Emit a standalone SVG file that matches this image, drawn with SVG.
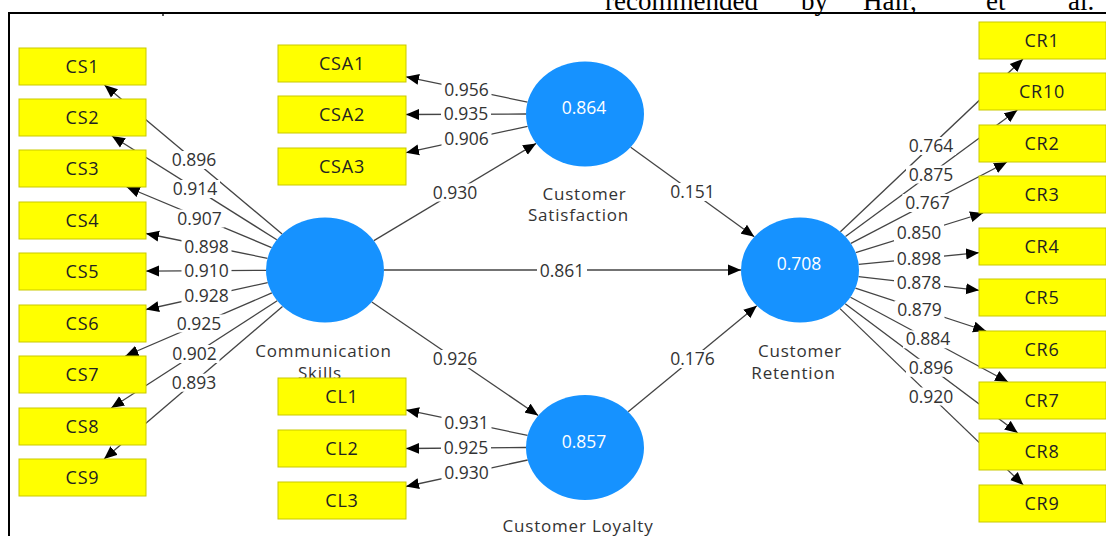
<svg xmlns="http://www.w3.org/2000/svg" width="1106" height="536" viewBox="0 0 1106 536">
  <style>
    .page { font-family: "Liberation Serif", "Times New Roman", serif; font-size: 27px; fill: #000; }
    .frame { stroke: #000; stroke-width: 2; fill: none; }
    .ind rect { fill: #ffff00; stroke: #c9c900; stroke-width: 1; }
    .ind text { font-family: "Open Sans", "DejaVu Sans", sans-serif; font-size: 18px; letter-spacing: 0.8px; fill: #222; text-anchor: middle; }
    .lv ellipse { fill: #1692ff; }
    .lv .val { font-family: "Open Sans", "DejaVu Sans", sans-serif; font-size: 17.5px; fill: #ffffff; text-anchor: middle; }
    .lv .name { font-family: "Open Sans", "DejaVu Sans", sans-serif; font-size: 17px; letter-spacing: 0.8px; fill: #333; text-anchor: middle; }
    .edge line { stroke: #444; stroke-width: 1.3; marker-end: url(#ah); }
    .coef rect { fill: #ffffff; }
    .coef text { font-family: "Open Sans", "DejaVu Sans", sans-serif; font-size: 17.5px; fill: #333; text-anchor: middle; }
  </style>
  <defs>
    <marker id="ah" markerUnits="userSpaceOnUse" markerWidth="14" markerHeight="12" refX="13" refY="6" orient="auto">
      <path d="M0,0.5 L13,6 L0,11.5 z" fill="#000"/>
    </marker>
  </defs>

  <rect width="1106" height="536" fill="#ffffff"/>

  <!-- running text of the page above the figure frame -->
  <g class="page">
    <text x="605" y="10">recommended</text>
    <text x="801" y="10">by</text>
    <text x="863" y="10">Hair,</text>
    <text x="986" y="10">et</text>
    <text x="1068" y="10">al.</text>
  </g>
  <path class="frame" d="M9,536 V13 H1106"/>
  <rect x="162" y="14" width="2" height="2" fill="#555"/>

  <!-- connectors: outer loadings and path coefficients -->
  <g id="connectors">
    <g class="edge">
      <line x1="282.1" y1="234.0" x2="104.5" y2="85"/>
      <line x1="276.8" y1="239.7" x2="111.9" y2="136"/>
      <line x1="271.6" y1="247.6" x2="126.7" y2="187"/>
      <line x1="267.5" y1="258.3" x2="146" y2="233.5"/>
      <line x1="266" y1="270.4" x2="146" y2="271.1"/>
      <line x1="267.7" y1="282.6" x2="146" y2="309.5"/>
      <line x1="271.9" y1="292.9" x2="125.4" y2="356"/>
      <line x1="277.2" y1="300.8" x2="111.2" y2="408"/>
      <line x1="282.5" y1="306.4" x2="104.1" y2="459"/>

      <line x1="527.5" y1="102.1" x2="406" y2="76.8"/>
      <line x1="526" y1="114" x2="406" y2="114.5"/>
      <line x1="527.6" y1="126.4" x2="406" y2="152.7"/>

      <line x1="527.6" y1="435.4" x2="406" y2="409.9"/>
      <line x1="526" y1="447.5" x2="406" y2="448.5"/>
      <line x1="527.7" y1="460" x2="406" y2="486.5"/>

      <line x1="840.4" y1="231.8" x2="1023" y2="59"/>
      <line x1="845.5" y1="236.5" x2="1017.4" y2="110"/>
      <line x1="850.9" y1="243.4" x2="1007" y2="162"/>
      <line x1="855.7" y1="252.7" x2="983.1" y2="213"/>
      <line x1="858.6" y1="264.3" x2="979" y2="252.7"/>
      <line x1="858.5" y1="276.6" x2="979" y2="290.3"/>
      <line x1="855.4" y1="288.1" x2="986.1" y2="331"/>
      <line x1="850.5" y1="297.2" x2="1008.1" y2="382"/>
      <line x1="845.2" y1="303.8" x2="1017.8" y2="433"/>
      <line x1="840" y1="308.6" x2="1023.3" y2="485"/>

      <line x1="373.9" y1="240.6" x2="536.1" y2="143.4"/>
      <line x1="384" y1="270" x2="741" y2="270"/>
      <line x1="371.8" y1="302" x2="538.2" y2="415.5"/>
      <line x1="630.7" y1="147.2" x2="754.3" y2="236.8"/>
      <line x1="628.2" y1="411.8" x2="756.8" y2="305.7"/>
    </g>

    <g class="coef">
      <g transform="translate(194,160)"><rect x="-25" y="-9" width="50" height="18"/><text y="6">0.896</text></g>
      <g transform="translate(195,189)"><rect x="-25" y="-9" width="50" height="18"/><text y="6">0.914</text></g>
      <g transform="translate(199.5,218.5)"><rect x="-25" y="-9" width="50" height="18"/><text y="6">0.907</text></g>
      <g transform="translate(206.5,246.5)"><rect x="-25" y="-9" width="50" height="18"/><text y="6">0.898</text></g>
      <g transform="translate(206.5,270.7)"><rect x="-25" y="-9" width="50" height="18"/><text y="6">0.910</text></g>
      <g transform="translate(206.5,296)"><rect x="-25" y="-9" width="50" height="18"/><text y="6">0.928</text></g>
      <g transform="translate(199,323.5)"><rect x="-25" y="-9" width="50" height="18"/><text y="6">0.925</text></g>
      <g transform="translate(194.5,354)"><rect x="-25" y="-9" width="50" height="18"/><text y="6">0.902</text></g>
      <g transform="translate(194,382.7)"><rect x="-25" y="-9" width="50" height="18"/><text y="6">0.893</text></g>

      <g transform="translate(466.5,89.5)"><rect x="-25" y="-9" width="50" height="18"/><text y="6">0.956</text></g>
      <g transform="translate(466,113.8)"><rect x="-25" y="-9" width="50" height="18"/><text y="6">0.935</text></g>
      <g transform="translate(466.5,139)"><rect x="-25" y="-9" width="50" height="18"/><text y="6">0.906</text></g>

      <g transform="translate(466.5,423)"><rect x="-25" y="-9" width="50" height="18"/><text y="6">0.931</text></g>
      <g transform="translate(466,448.2)"><rect x="-25" y="-9" width="50" height="18"/><text y="6">0.925</text></g>
      <g transform="translate(466.5,473.3)"><rect x="-25" y="-9" width="50" height="18"/><text y="6">0.930</text></g>

      <g transform="translate(931,146)"><rect x="-25" y="-9" width="50" height="18"/><text y="6">0.764</text></g>
      <g transform="translate(931,174.5)"><rect x="-25" y="-9" width="50" height="18"/><text y="6">0.875</text></g>
      <g transform="translate(927.5,203)"><rect x="-25" y="-9" width="50" height="18"/><text y="6">0.767</text></g>
      <g transform="translate(919,233)"><rect x="-25" y="-9" width="50" height="18"/><text y="6">0.850</text></g>
      <g transform="translate(919,259)"><rect x="-25" y="-9" width="50" height="18"/><text y="6">0.898</text></g>
      <g transform="translate(919,283)"><rect x="-25" y="-9" width="50" height="18"/><text y="6">0.878</text></g>
      <g transform="translate(919.5,309.5)"><rect x="-25" y="-9" width="50" height="18"/><text y="6">0.879</text></g>
      <g transform="translate(928,339.3)"><rect x="-25" y="-9" width="50" height="18"/><text y="6">0.884</text></g>
      <g transform="translate(931,367.8)"><rect x="-25" y="-9" width="50" height="18"/><text y="6">0.896</text></g>
      <g transform="translate(931,396.5)"><rect x="-25" y="-9" width="50" height="18"/><text y="6">0.920</text></g>

      <g transform="translate(455,192.5)"><rect x="-25" y="-9" width="50" height="18"/><text y="6">0.930</text></g>
      <g transform="translate(562,270.5)"><rect x="-25" y="-9" width="50" height="18"/><text y="6">0.861</text></g>
      <g transform="translate(455,359)"><rect x="-25" y="-9" width="50" height="18"/><text y="6">0.926</text></g>
      <g transform="translate(692.5,192)"><rect x="-25" y="-9" width="50" height="18"/><text y="6">0.151</text></g>
      <g transform="translate(692.5,359)"><rect x="-25" y="-9" width="50" height="18"/><text y="6">0.176</text></g>
    </g>
  </g>

  <!-- latent variables -->
  <g id="communication-skills" class="lv">
    <ellipse cx="325" cy="270" rx="59" ry="52.5"/>
    <text class="name" x="323.5" y="356.5">Communication</text>
    <text class="name" x="320" y="378.5">Skills</text>
  </g>
  <g id="customer-satisfaction" class="lv">
    <ellipse cx="585" cy="114" rx="59" ry="52.5"/>
    <text class="val" x="584" y="114">0.864</text>
    <text class="name" x="584.5" y="199.5">Customer</text>
    <text class="name" x="578.5" y="221">Satisfaction</text>
  </g>
  <g id="customer-loyalty" class="lv">
    <ellipse cx="585" cy="447.5" rx="59" ry="52.5"/>
    <text class="val" x="584" y="448">0.857</text>
    <text class="name" x="578" y="531.5">Customer Loyalty</text>
  </g>
  <g id="customer-retention" class="lv">
    <ellipse cx="800" cy="270" rx="59" ry="52.5"/>
    <text class="val" x="799" y="270">0.708</text>
    <text class="name" x="800" y="356.5">Customer</text>
    <text class="name" x="793.5" y="378.5">Retention</text>
  </g>

  <!-- Communication Skills indicators -->
  <g id="CS1" class="ind"><rect x="19" y="48" width="127" height="37"/><text x="82.5" y="73">CS1</text></g>
  <g id="CS2" class="ind"><rect x="19" y="99" width="127" height="37"/><text x="82.5" y="124">CS2</text></g>
  <g id="CS3" class="ind"><rect x="19" y="150" width="127" height="37"/><text x="82.5" y="175">CS3</text></g>
  <g id="CS4" class="ind"><rect x="19" y="202" width="127" height="37"/><text x="82.5" y="227">CS4</text></g>
  <g id="CS5" class="ind"><rect x="19" y="253" width="127" height="37"/><text x="82.5" y="278">CS5</text></g>
  <g id="CS6" class="ind"><rect x="19" y="305" width="127" height="37"/><text x="82.5" y="330">CS6</text></g>
  <g id="CS7" class="ind"><rect x="19" y="356" width="127" height="37"/><text x="82.5" y="381">CS7</text></g>
  <g id="CS8" class="ind"><rect x="19" y="408" width="127" height="37"/><text x="82.5" y="433">CS8</text></g>
  <g id="CS9" class="ind"><rect x="19" y="459" width="127" height="37"/><text x="82.5" y="484">CS9</text></g>

  <!-- Customer Satisfaction indicators -->
  <g id="CSA1" class="ind"><rect x="278" y="45" width="128" height="37"/><text x="342" y="70">CSA1</text></g>
  <g id="CSA2" class="ind"><rect x="278" y="96" width="128" height="37"/><text x="342" y="121">CSA2</text></g>
  <g id="CSA3" class="ind"><rect x="278" y="148" width="128" height="37"/><text x="342" y="173">CSA3</text></g>

  <!-- Customer Loyalty indicators -->
  <g id="CL1" class="ind"><rect x="278" y="378" width="128" height="37"/><text x="342" y="403">CL1</text></g>
  <g id="CL2" class="ind"><rect x="278" y="430" width="128" height="37"/><text x="342" y="455">CL2</text></g>
  <g id="CL3" class="ind"><rect x="278" y="482" width="128" height="37"/><text x="342" y="507">CL3</text></g>

  <!-- Customer Retention indicators -->
  <g id="CR1" class="ind"><rect x="979" y="22" width="127" height="37"/><text x="1042" y="47">CR1</text></g>
  <g id="CR10" class="ind"><rect x="979" y="73" width="127" height="37"/><text x="1042" y="98">CR10</text></g>
  <g id="CR2" class="ind"><rect x="979" y="125" width="127" height="37"/><text x="1042" y="150">CR2</text></g>
  <g id="CR3" class="ind"><rect x="979" y="176" width="127" height="37"/><text x="1042" y="201">CR3</text></g>
  <g id="CR4" class="ind"><rect x="979" y="228" width="127" height="37"/><text x="1042" y="253">CR4</text></g>
  <g id="CR5" class="ind"><rect x="979" y="279" width="127" height="37"/><text x="1042" y="304">CR5</text></g>
  <g id="CR6" class="ind"><rect x="979" y="331" width="127" height="37"/><text x="1042" y="356">CR6</text></g>
  <g id="CR7" class="ind"><rect x="979" y="382" width="127" height="37"/><text x="1042" y="407">CR7</text></g>
  <g id="CR8" class="ind"><rect x="979" y="433" width="127" height="37"/><text x="1042" y="458">CR8</text></g>
  <g id="CR9" class="ind"><rect x="979" y="485" width="127" height="37"/><text x="1042" y="510">CR9</text></g>
</svg>
